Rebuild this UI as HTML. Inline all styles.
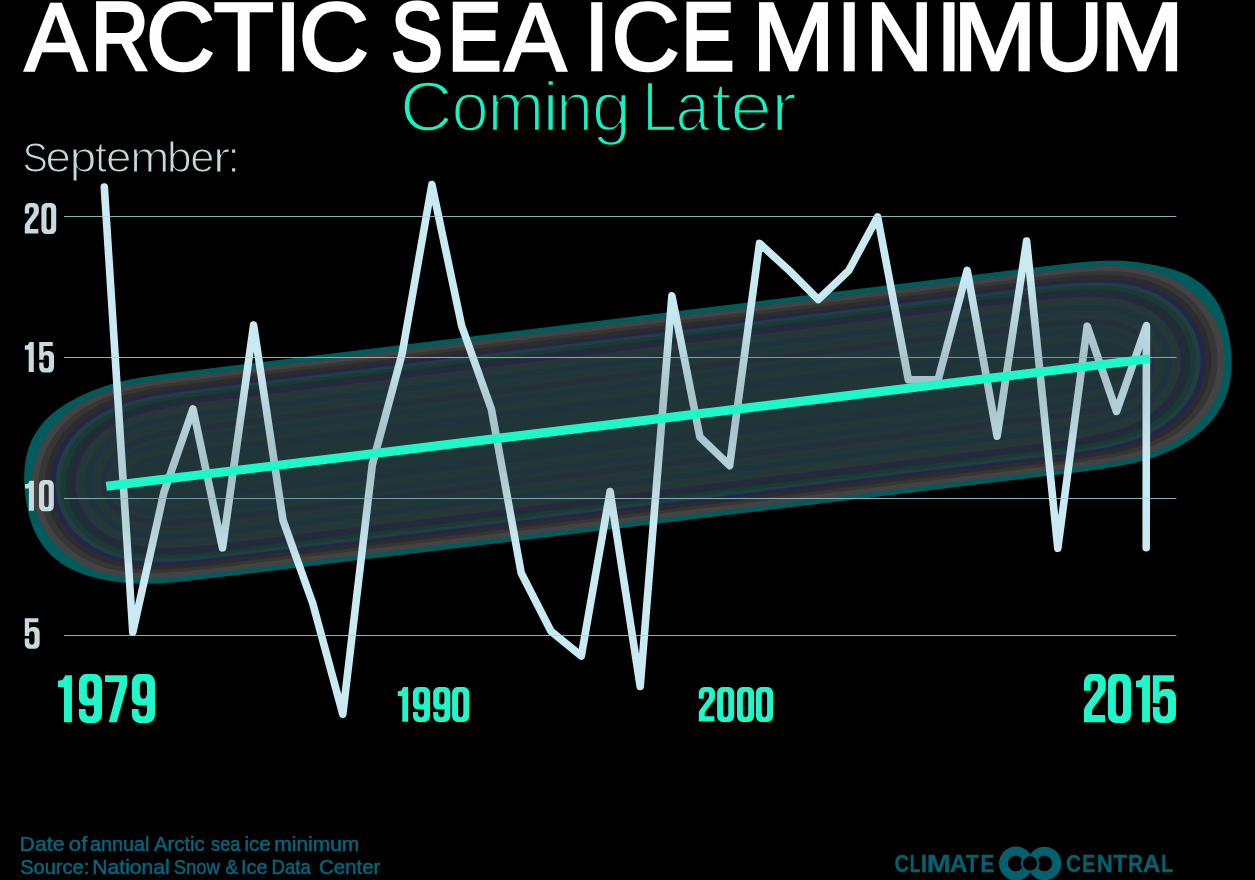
<!DOCTYPE html>
<html lang="en">
<head>
<meta charset="utf-8">
<title>Arctic Sea Ice Minimum - Coming Later</title>
<style>
html,body{margin:0;padding:0;background:#000;}
body{width:1255px;height:880px;overflow:hidden;font-family:'Liberation Sans', sans-serif;}
svg{display:block;position:absolute;left:0;top:0;}
text{font-family:'Liberation Sans', sans-serif;}
</style>
</head>
<body>
<svg width="1255" height="880" viewBox="0 0 1255 880">
<defs>
<filter id="blur" x="-20%" y="-60%" width="140%" height="220%" color-interpolation-filters="sRGB">
<feGaussianBlur stdDeviation="30"/>
</filter>
<mask id="glowmask" maskUnits="userSpaceOnUse" x="0" y="0" width="1255" height="880">
<path d="M106.3 486.0L1149.8 358.4" stroke="#fff" stroke-width="120" stroke-linecap="butt" fill="none" filter="url(#blur)"/>
</mask>
<g id="lines" fill="none">
<g stroke-width="1.1"><path d="M64 216.5H1176.3"/><path d="M64 357.5H1176.3"/><path d="M64 498.5H1176.3"/><path d="M64 635.5H1176.3"/></g>
</g>
<path id="g0" fill-rule="evenodd" d="M0 17.5A15 17 0 0 1 15 .5H32.6A15 17 0 0 1 47.6 17.5V84.6A15 17 0 0 1 32.6 101.6H15A15 17 0 0 1 0 84.6ZM16.4 25.5A7.4 11 0 0 1 31.2 25.5V76.7A7.4 11 0 0 1 16.4 76.7Z"/><path id="g1" fill-rule="evenodd" d="M0 14.5L9.5 12.8L15.3 3H28.8V100H12.5V27.6H0Z"/><path id="gi" fill-rule="evenodd" d="M0 13L9.5 11.3L15.3 .5H28.8V101H12.5V26.5H0Z"/><path id="g2" fill-rule="evenodd" d="M0 35V17.5A15 17 0 0 1 15 .5H30.1A15 17 0 0 1 45.1 17.5V30Q45.1 35 42 40L19 71Q16.4 75 16.4 79V85.2H43.5V100H0V76Q0 71 3 67L26 35Q28.7 31 28.7 27V22A6 7.5 0 0 0 22.7 14.5H19.9A6 7.5 0 0 0 13.9 22V35Z"/><path id="g5" fill-rule="evenodd" d="M0 3H43.5V16.1H13.9V37.5Q17 31.7 23 31.7H32.6A15 17 0 0 1 47.6 48.7V84.6A15 17 0 0 1 32.6 101.6H15A15 17 0 0 1 0 84.6V68.8H13.9V76.7A7.4 11 0 0 0 21.3 87.7H23.8A7.4 11 0 0 0 31.2 76.7V56.7A7.4 11 0 0 0 23.8 45.7H21.3A7.4 11 0 0 0 13.9 56.7V60.5H0Z"/><path id="g7" fill-rule="evenodd" d="M0 3H45.4V23.5L24.1 100H7.7L29.8 17H0Z"/><path id="g9" fill-rule="evenodd" d="M0 17.5A15 17 0 0 1 15 .5H32.6A15 17 0 0 1 47.6 17.5V84.6A15 17 0 0 1 32.6 101.6H15A15 17 0 0 1 0 84.6V72.9H13.9V76.7A7.4 11 0 0 0 21.3 87.7H23.8A7.4 11 0 0 0 31.2 76.7V65.5H14A14 15 0 0 1 0 50.5ZM16.4 25.5A7.4 11 0 0 1 31.2 25.5V40.5A7.4 11 0 0 1 16.4 40.5Z"/>
<path id="dataline" d="M104.3 187.0L132.8 632.2L163.9 492.5L193.0 409.0L222.5 547.9L253.6 325.1L283.0 520.2L312.8 603.5L342.8 714.3L372.3 464.8L402.1 353.8L431.9 184.6L461.7 326.0L491.4 409.2L521.2 573.0L551.0 631.2L581.3 656.0L610.1 491.6L640.2 686.4L671.9 295.9L699.9 437.0L729.6 465.6L759.5 243.4L789.2 270.5L818.3 299.6L848.8 270.5L877.6 216.9L908.4 379.8L938.1 379.8L967.2 270.3L997.1 436.2L1026.6 241.0L1057.8 548.3L1087.2 326.3L1116.5 411.4L1146.4 325.7L1146.2 547.7" fill="none" stroke-width="7.6" stroke-linecap="round" stroke-linejoin="round"/>
</defs>
<rect width="1255" height="880" fill="#000"/>

<!-- title -->
<g id="title" opacity="0.999">
<g id="t-title" font-size="96.7" fill="#fff" stroke="#fff" stroke-width="2.6"><text transform="translate(24.87 70.40) scale(0.9622 1)">A</text><text transform="translate(90.91 70.40) scale(0.8293 1)" stroke-width="3.60">R</text><text transform="translate(146.04 70.40) scale(0.9868 1)">C</text><text transform="translate(213.51 70.40) scale(1.0248 1)">T</text><text transform="translate(274.62 70.40) scale(1.0070 1)">I</text><text transform="translate(298.77 70.40) scale(1.0056 1)">C</text><text transform="translate(391.12 70.40) scale(0.8031 1)" stroke-width="3.60">S</text><text transform="translate(447.80 70.40) scale(0.8320 1)" stroke-width="3.60">E</text><text transform="translate(504.17 70.40) scale(0.9622 1)">A</text><text transform="translate(583.88 70.40) scale(0.9468 1)">I</text><text transform="translate(611.38 70.40) scale(0.9759 1)">C</text><text transform="translate(681.39 70.40) scale(0.8177 1)" stroke-width="3.60">E</text><text transform="translate(752.31 70.40) scale(1.0240 1)">M</text><text transform="translate(836.48 70.40) scale(0.9468 1)">I</text><text transform="translate(865.56 70.40) scale(0.9715 1)">N</text><text transform="translate(936.18 70.40) scale(0.9468 1)">I</text><text transform="translate(953.14 70.40) scale(1.0344 1)">M</text><text transform="translate(1034.52 70.40) scale(0.9876 1)">U</text><text transform="translate(1099.66 70.40) scale(1.0463 1)">M</text></g>
<g id="t-sub" font-size="70.5" fill="#14f5c4" stroke="#000" stroke-width="2.4"><text transform="translate(399.81 131.10) scale(1.0438 1)">C</text><text transform="translate(451.44 131.10) scale(0.9518 1)">o</text><text transform="translate(487.28 131.10) scale(0.9724 1)">m</text><text transform="translate(541.80 131.10) scale(1.1327 1)">i</text><text transform="translate(556.03 131.10) scale(0.9474 1)">n</text><text transform="translate(591.73 131.10) scale(1.0033 1)">g</text><text transform="translate(641.85 131.10) scale(0.9099 1)">L</text><text transform="translate(675.55 131.10) scale(0.8695 1)">a</text><text transform="translate(711.12 131.10) scale(1.0510 1)">t</text><text transform="translate(730.34 131.10) scale(1.0625 1)">e</text><text transform="translate(770.63 131.10) scale(1.1166 1)">r</text></g>
<g id="t-sep" font-size="43" fill="#c5dade" stroke="#000" stroke-width="1.2"><text transform="translate(22.68 172.00) scale(0.8703 1)">S</text><text transform="translate(45.42 172.00) scale(1.0644 1)">e</text><text transform="translate(69.76 172.00) scale(1.1082 1)">p</text><text transform="translate(94.96 172.00) scale(0.9917 1)">t</text><text transform="translate(105.92 172.00) scale(1.0644 1)">e</text><text transform="translate(130.13 172.00) scale(1.0923 1)">m</text><text transform="translate(166.92 172.00) scale(1.0310 1)">b</text><text transform="translate(190.24 172.00) scale(1.0117 1)">e</text><text transform="translate(213.08 172.00) scale(1.1937 1)">r</text><text transform="translate(227.25 172.00) scale(1.0711 1)">:</text></g>
</g>

<!-- glow -->
<g id="glow">
<path fill="#005c5c" d="M25.3 495.9L24.9 491.8L24.5 487.7L24.3 483.6L24.2 479.5L24.2 475.3L24.4 471.1L24.7 466.9L25.2 462.7L25.9 458.4L26.9 454.2L28.0 450.0L29.4 445.8L31.1 441.7L33.0 437.6L35.2 433.7L37.6 429.9L40.3 426.2L43.2 422.6L46.3 419.3L49.7 416.0L53.2 412.9L57.0 410.0L60.8 407.2L64.9 404.6L69.1 402.1L73.5 399.7L78.0 397.3L82.7 395.1L87.6 392.8L92.8 390.6L98.2 388.5L104.0 386.4L110.2 384.5L117.0 382.6L124.4 380.8L132.7 379.1L142.5 377.3L154.7 375.4L172.5 373.0L289.0 358.7L941.8 278.8L1058.3 264.7L1076.2 262.7L1088.5 261.6L1098.4 261.0L1106.9 260.7L1114.5 260.6L1121.5 260.8L1128.0 261.2L1134.1 261.8L1139.9 262.6L1145.5 263.4L1150.8 264.4L1155.9 265.3L1160.9 266.4L1165.8 267.5L1170.5 268.8L1175.2 270.2L1179.7 271.8L1184.1 273.6L1188.4 275.6L1192.6 277.9L1196.6 280.4L1200.3 283.1L1203.9 286.1L1207.3 289.3L1210.4 292.6L1213.2 296.2L1215.8 299.9L1218.1 303.8L1220.2 307.7L1222.0 311.7L1223.6 315.8L1225.0 319.9L1226.2 324.0L1227.3 328.1L1228.2 332.2L1229.0 336.3L1229.7 340.4L1230.3 344.4L1230.8 348.5L1231.2 352.6L1231.5 356.7L1231.7 360.8L1231.7 364.9L1231.5 369.0L1231.2 373.2L1230.7 377.3L1230.1 381.5L1229.2 385.6L1228.1 389.8L1226.9 393.9L1225.4 397.9L1223.7 401.9L1221.7 405.9L1219.6 409.7L1217.2 413.5L1214.6 417.1L1211.8 420.7L1208.8 424.1L1205.6 427.3L1202.2 430.5L1198.6 433.5L1194.8 436.4L1190.9 439.2L1186.8 441.8L1182.5 444.4L1178.0 446.9L1173.4 449.2L1168.5 451.5L1163.3 453.8L1157.9 455.9L1152.1 458.0L1145.9 459.9L1139.1 461.8L1131.7 463.6L1123.4 465.3L1113.6 467.1L1101.4 469.0L1083.6 471.4L967.1 485.7L314.3 565.6L197.8 579.7L179.9 581.7L167.6 582.8L157.7 583.4L149.2 583.7L141.6 583.8L134.6 583.6L128.1 583.2L122.0 582.6L116.2 581.8L110.6 580.9L105.3 579.9L100.2 578.9L95.2 577.7L90.4 576.4L85.7 575.0L81.2 573.4L76.7 571.6L72.4 569.7L68.2 567.6L64.2 565.2L60.3 562.7L56.7 559.9L53.2 557.0L49.9 553.9L46.8 550.6L44.0 547.1L41.4 543.5L39.0 539.8L36.9 536.0L34.9 532.1L33.2 528.2L31.7 524.2L30.4 520.2L29.2 516.1L28.2 512.1L27.3 508.1L26.5 504.0L25.8 500.0Z"/>
<path fill="#434343" d="M32.3 495.0L31.9 491.2L31.7 487.3L31.7 483.4L31.8 479.5L32.1 475.6L32.6 471.7L33.3 467.8L34.1 463.9L35.2 460.1L36.4 456.3L37.7 452.5L39.3 448.8L41.0 445.1L42.9 441.5L45.0 437.9L47.2 434.4L49.7 431.0L52.3 427.7L55.0 424.4L58.0 421.2L61.1 418.1L64.4 415.1L67.9 412.2L71.6 409.3L75.5 406.6L79.6 404.0L83.9 401.5L88.4 399.1L93.2 396.8L98.3 394.6L103.7 392.5L109.4 390.5L115.5 388.6L122.2 386.8L129.6 385.1L138.0 383.4L147.8 381.6L160.1 379.7L178.2 377.3L297.0 362.7L935.0 284.7L1053.9 270.2L1072.0 268.2L1084.4 267.1L1094.3 266.4L1102.8 266.1L1110.4 266.0L1117.4 266.1L1123.8 266.5L1129.8 267.0L1135.5 267.8L1141.0 268.7L1146.2 269.7L1151.2 271.0L1155.9 272.4L1160.5 273.9L1165.0 275.6L1169.2 277.5L1173.3 279.5L1177.3 281.6L1181.1 283.9L1184.7 286.3L1188.2 288.8L1191.5 291.4L1194.7 294.1L1197.7 297.0L1200.6 299.9L1203.3 303.0L1205.9 306.1L1208.3 309.4L1210.5 312.7L1212.6 316.1L1214.5 319.6L1216.3 323.1L1217.9 326.7L1219.3 330.4L1220.5 334.1L1221.6 337.9L1222.5 341.7L1223.2 345.5L1223.8 349.4L1224.2 353.2L1224.4 357.1L1224.4 361.0L1224.3 364.9L1224.0 368.8L1223.5 372.7L1222.8 376.6L1222.0 380.5L1220.9 384.3L1219.7 388.1L1218.4 391.9L1216.8 395.6L1215.1 399.3L1213.2 402.9L1211.1 406.5L1208.9 410.0L1206.4 413.4L1203.8 416.7L1201.1 420.0L1198.1 423.2L1195.0 426.3L1191.7 429.3L1188.2 432.2L1184.5 435.1L1180.6 437.8L1176.5 440.4L1172.2 442.9L1167.7 445.3L1162.9 447.6L1157.8 449.8L1152.4 451.9L1146.7 453.9L1140.6 455.8L1133.9 457.6L1126.5 459.3L1118.1 461.0L1108.3 462.8L1096.0 464.7L1077.9 467.1L959.1 481.7L321.1 559.7L202.2 574.2L184.1 576.2L171.7 577.3L161.8 578.0L153.3 578.3L145.7 578.4L138.7 578.3L132.3 577.9L126.3 577.4L120.6 576.6L115.1 575.7L109.9 574.7L104.9 573.4L100.2 572.0L95.6 570.5L91.1 568.8L86.9 566.9L82.8 564.9L78.8 562.8L75.0 560.5L71.4 558.1L67.9 555.6L64.6 553.0L61.4 550.3L58.4 547.4L55.5 544.5L52.8 541.4L50.2 538.3L47.8 535.0L45.6 531.7L43.5 528.3L41.6 524.8L39.8 521.3L38.2 517.7L36.8 514.0L35.6 510.3L34.5 506.5L33.6 502.7L32.9 498.9Z"/>
<path fill="#363636" d="M39.1 494.2L38.7 490.5L38.5 486.8L38.5 483.1L38.7 479.4L39.0 475.6L39.5 471.9L40.1 468.2L40.9 464.5L41.9 460.9L43.1 457.3L44.4 453.7L45.9 450.1L47.6 446.6L49.5 443.2L51.5 439.8L53.7 436.4L56.1 433.1L58.6 429.9L61.3 426.8L64.2 423.8L67.3 420.8L70.5 417.9L73.9 415.1L77.5 412.4L81.3 409.8L85.4 407.3L89.6 404.9L94.0 402.6L98.8 400.4L103.7 398.3L109.1 396.3L114.7 394.3L120.8 392.5L127.5 390.7L134.9 389.0L143.2 387.4L153.1 385.6L165.5 383.8L183.9 381.3L304.9 366.4L928.2 290.2L1049.3 275.5L1067.7 273.4L1080.2 272.3L1090.2 271.6L1098.7 271.2L1106.3 271.1L1113.2 271.2L1119.5 271.5L1125.5 272.0L1131.1 272.6L1136.5 273.5L1141.6 274.5L1146.5 275.7L1151.2 277.0L1155.7 278.4L1160.0 280.1L1164.2 281.8L1168.1 283.7L1172.0 285.7L1175.7 287.8L1179.2 290.1L1182.6 292.5L1185.8 295.0L1188.9 297.6L1191.8 300.3L1194.6 303.1L1197.3 306.0L1199.7 309.0L1202.0 312.1L1204.2 315.3L1206.2 318.5L1208.1 321.8L1209.8 325.2L1211.3 328.6L1212.7 332.1L1213.9 335.7L1214.9 339.2L1215.8 342.9L1216.5 346.5L1217.0 350.2L1217.4 353.9L1217.6 357.6L1217.6 361.3L1217.4 365.0L1217.1 368.8L1216.6 372.5L1216.0 376.2L1215.2 379.9L1214.2 383.5L1213.0 387.1L1211.7 390.7L1210.2 394.3L1208.5 397.8L1206.6 401.2L1204.6 404.6L1202.4 408.0L1200.0 411.3L1197.5 414.5L1194.8 417.6L1191.9 420.6L1188.8 423.6L1185.6 426.5L1182.2 429.3L1178.6 432.0L1174.8 434.6L1170.7 437.1L1166.5 439.5L1162.1 441.8L1157.3 444.0L1152.4 446.1L1147.0 448.1L1141.4 450.1L1135.3 451.9L1128.6 453.7L1121.2 455.4L1112.9 457.0L1103.0 458.8L1090.6 460.6L1072.2 463.1L951.2 478.0L327.9 554.2L206.8 568.9L188.4 571.0L175.9 572.1L165.9 572.8L157.4 573.2L149.8 573.3L142.9 573.2L136.6 572.9L130.6 572.4L125.0 571.8L119.6 570.9L114.5 569.9L109.6 568.7L104.9 567.4L100.4 566.0L96.1 564.3L91.9 562.6L88.0 560.7L84.1 558.7L80.4 556.6L76.9 554.3L73.5 551.9L70.3 549.4L67.2 546.8L64.3 544.1L61.5 541.3L58.8 538.4L56.4 535.4L54.1 532.3L51.9 529.1L49.9 525.9L48.0 522.6L46.3 519.2L44.8 515.8L43.4 512.3L42.2 508.7L41.2 505.2L40.3 501.5L39.6 497.9Z"/>
<path fill="#2c2c2c" d="M45.4 493.4L45.0 489.9L44.9 486.3L44.8 482.7L45.0 479.1L45.3 475.5L45.8 471.9L46.5 468.3L47.3 464.7L48.3 461.2L49.4 457.7L50.8 454.2L52.3 450.7L53.9 447.4L55.8 444.0L57.8 440.7L60.0 437.5L62.3 434.3L64.8 431.2L67.5 428.2L70.4 425.2L73.5 422.3L76.7 419.5L80.1 416.8L83.7 414.2L87.5 411.6L91.5 409.2L95.8 406.8L100.3 404.6L105.0 402.4L110.0 400.4L115.4 398.4L121.1 396.5L127.3 394.7L134.1 392.9L141.6 391.3L150.2 389.6L160.3 387.8L173.2 385.9L192.2 383.4L318.5 367.9L915.4 294.9L1041.7 279.5L1060.8 277.4L1073.7 276.1L1084.0 275.4L1092.7 275.0L1100.4 274.8L1107.4 274.8L1113.8 275.1L1119.9 275.6L1125.5 276.2L1130.9 277.0L1136.0 277.9L1140.9 279.0L1145.6 280.3L1150.1 281.7L1154.4 283.2L1158.5 284.9L1162.5 286.7L1166.3 288.7L1170.0 290.7L1173.5 292.9L1176.8 295.2L1180.0 297.6L1183.1 300.1L1186.0 302.8L1188.7 305.5L1191.3 308.3L1193.8 311.2L1196.0 314.1L1198.2 317.2L1200.1 320.3L1202.0 323.5L1203.6 326.8L1205.1 330.1L1206.5 333.5L1207.6 336.9L1208.6 340.4L1209.5 343.9L1210.2 347.4L1210.7 351.0L1211.1 354.5L1211.2 358.1L1211.3 361.7L1211.1 365.3L1210.8 368.9L1210.3 372.5L1209.6 376.1L1208.8 379.7L1207.8 383.2L1206.7 386.7L1205.3 390.2L1203.8 393.7L1202.2 397.0L1200.3 400.4L1198.3 403.7L1196.1 406.9L1193.8 410.1L1191.3 413.2L1188.6 416.2L1185.7 419.2L1182.6 422.1L1179.4 424.9L1176.0 427.6L1172.4 430.2L1168.6 432.8L1164.6 435.2L1160.3 437.6L1155.8 439.8L1151.1 442.0L1146.1 444.0L1140.7 446.0L1135.0 447.9L1128.8 449.7L1122.0 451.5L1114.5 453.1L1105.9 454.8L1095.8 456.6L1082.9 458.5L1063.9 461.0L937.6 476.5L340.7 549.5L214.4 564.9L195.3 567.0L182.4 568.3L172.1 569.0L163.4 569.4L155.7 569.6L148.7 569.6L142.3 569.3L136.2 568.8L130.6 568.2L125.2 567.4L120.1 566.5L115.2 565.4L110.5 564.1L106.0 562.7L101.7 561.2L97.6 559.5L93.6 557.7L89.8 555.7L86.1 553.7L82.6 551.5L79.3 549.2L76.1 546.8L73.0 544.3L70.1 541.6L67.4 538.9L64.8 536.1L62.3 533.2L60.1 530.3L57.9 527.2L56.0 524.1L54.1 520.9L52.5 517.6L51.0 514.3L49.6 510.9L48.5 507.5L47.5 504.0L46.6 500.5L45.9 497.0Z"/>
<path fill="#25254b" d="M51.0 492.8L50.7 489.3L50.5 485.9L50.5 482.4L50.6 479.0L50.9 475.5L51.4 472.1L52.1 468.7L52.9 465.2L53.8 461.9L55.0 458.5L56.3 455.1L57.7 451.8L59.4 448.6L61.2 445.4L63.1 442.2L65.3 439.1L67.6 436.1L70.0 433.1L72.7 430.2L75.5 427.3L78.5 424.6L81.6 421.9L85.0 419.3L88.5 416.7L92.3 414.3L96.2 411.9L100.4 409.7L104.8 407.5L109.4 405.4L114.4 403.4L119.7 401.5L125.4 399.7L131.5 397.9L138.2 396.2L145.7 394.6L154.2 392.9L164.3 391.2L177.2 389.3L196.4 386.8L323.6 371.1L911.2 299.3L1038.5 283.8L1057.7 281.6L1070.6 280.4L1080.9 279.6L1089.5 279.2L1097.2 279.0L1104.1 279.0L1110.5 279.2L1116.4 279.6L1122.0 280.2L1127.3 281.0L1132.4 281.9L1137.2 282.9L1141.8 284.1L1146.2 285.4L1150.4 286.9L1154.4 288.5L1158.3 290.2L1162.0 292.1L1165.6 294.0L1169.0 296.1L1172.3 298.3L1175.4 300.6L1178.3 303.0L1181.1 305.5L1183.8 308.1L1186.3 310.8L1188.7 313.6L1190.9 316.4L1193.0 319.3L1194.9 322.3L1196.7 325.4L1198.3 328.5L1199.7 331.7L1201.0 334.9L1202.1 338.2L1203.1 341.5L1203.9 344.9L1204.6 348.2L1205.1 351.6L1205.4 355.1L1205.6 358.5L1205.6 362.0L1205.5 365.4L1205.2 368.9L1204.7 372.3L1204.0 375.7L1203.2 379.2L1202.3 382.5L1201.1 385.9L1199.8 389.3L1198.4 392.6L1196.7 395.8L1194.9 399.0L1193.0 402.2L1190.8 405.3L1188.5 408.3L1186.1 411.3L1183.4 414.2L1180.6 417.1L1177.6 419.8L1174.5 422.5L1171.1 425.1L1167.6 427.7L1163.8 430.1L1159.9 432.5L1155.7 434.7L1151.3 436.9L1146.7 439.0L1141.7 441.0L1136.4 442.9L1130.7 444.7L1124.6 446.5L1117.9 448.2L1110.4 449.8L1101.9 451.5L1091.8 453.2L1078.9 455.1L1059.7 457.6L932.5 473.3L344.9 545.1L217.6 560.6L198.4 562.8L185.5 564.0L175.2 564.8L166.6 565.2L158.9 565.4L152.0 565.4L145.6 565.2L139.7 564.8L134.1 564.2L128.8 563.4L123.7 562.5L118.9 561.5L114.3 560.3L109.9 559.0L105.7 557.5L101.7 555.9L97.8 554.2L94.1 552.3L90.5 550.4L87.1 548.3L83.8 546.1L80.7 543.8L77.8 541.4L75.0 538.9L72.3 536.3L69.8 533.6L67.4 530.8L65.2 528.0L63.1 525.1L61.2 522.1L59.4 519.0L57.8 515.9L56.4 512.7L55.1 509.5L54.0 506.2L53.0 502.9L52.2 499.5L51.5 496.2Z"/>
<path fill="#204040" d="M56.0 492.2L55.7 488.8L55.5 485.5L55.5 482.2L55.7 478.8L56.0 475.5L56.4 472.2L57.1 468.9L57.9 465.6L58.8 462.3L60.0 459.0L61.2 455.8L62.7 452.6L64.3 449.5L66.1 446.4L68.0 443.3L70.1 440.3L72.4 437.3L74.8 434.5L77.4 431.6L80.2 428.9L83.1 426.2L86.2 423.6L89.6 421.1L93.1 418.6L96.8 416.2L100.7 414.0L104.8 411.8L109.2 409.6L113.8 407.6L118.7 405.7L124.0 403.8L129.7 402.0L135.8 400.3L142.5 398.6L150.0 397.0L158.6 395.4L168.8 393.7L181.8 391.7L201.2 389.2L330.4 373.3L905.1 303.0L1034.3 287.3L1053.8 285.1L1066.9 283.8L1077.2 283.0L1085.9 282.6L1093.6 282.3L1100.5 282.3L1106.9 282.5L1112.8 282.9L1118.4 283.4L1123.6 284.1L1128.6 285.0L1133.4 286.0L1137.9 287.1L1142.3 288.4L1146.4 289.8L1150.4 291.3L1154.2 293.0L1157.9 294.8L1161.4 296.7L1164.7 298.7L1168.0 300.8L1171.0 303.0L1173.9 305.3L1176.7 307.7L1179.3 310.2L1181.8 312.8L1184.1 315.5L1186.3 318.2L1188.3 321.1L1190.1 323.9L1191.9 326.9L1193.4 329.9L1194.9 333.0L1196.1 336.1L1197.2 339.3L1198.2 342.5L1199.0 345.7L1199.6 349.0L1200.1 352.2L1200.4 355.6L1200.6 358.9L1200.6 362.2L1200.4 365.6L1200.1 368.9L1199.7 372.2L1199.0 375.5L1198.2 378.8L1197.3 382.1L1196.1 385.4L1194.9 388.6L1193.4 391.8L1191.8 394.9L1190.0 398.0L1188.1 401.1L1186.0 404.1L1183.7 407.1L1181.3 409.9L1178.7 412.8L1175.9 415.5L1173.0 418.2L1169.9 420.8L1166.5 423.3L1163.0 425.8L1159.3 428.2L1155.4 430.4L1151.3 432.6L1146.9 434.8L1142.3 436.8L1137.4 438.7L1132.1 440.6L1126.4 442.4L1120.3 444.1L1113.6 445.8L1106.1 447.4L1097.5 449.0L1087.3 450.7L1074.3 452.7L1054.9 455.2L925.7 471.1L351.0 541.4L221.8 557.1L202.3 559.3L189.2 560.6L178.9 561.4L170.2 561.8L162.5 562.1L155.6 562.1L149.2 561.9L143.3 561.5L137.7 561.0L132.5 560.3L127.5 559.4L122.7 558.4L118.2 557.3L113.8 556.0L109.7 554.6L105.7 553.1L101.9 551.4L98.2 549.6L94.7 547.7L91.4 545.7L88.1 543.6L85.1 541.4L82.2 539.1L79.4 536.7L76.8 534.2L74.3 531.6L72.0 528.9L69.8 526.2L67.8 523.3L66.0 520.5L64.2 517.5L62.7 514.5L61.2 511.4L60.0 508.3L58.9 505.1L57.9 501.9L57.1 498.7L56.5 495.4Z"/>
<path fill="#1d3838" d="M61.0 491.5L60.7 488.3L60.5 485.1L60.5 481.9L60.7 478.7L61.0 475.5L61.5 472.3L62.1 469.1L62.9 465.9L63.8 462.7L64.9 459.6L66.2 456.4L67.6 453.4L69.2 450.3L71.0 447.3L72.9 444.4L74.9 441.5L77.2 438.6L79.6 435.8L82.1 433.1L84.9 430.4L87.8 427.8L90.9 425.3L94.1 422.9L97.6 420.5L101.2 418.2L105.1 416.0L109.2 413.8L113.5 411.8L118.2 409.8L123.1 407.9L128.3 406.1L133.9 404.3L140.1 402.7L146.8 401.0L154.3 399.4L162.9 397.8L173.1 396.1L186.2 394.2L205.9 391.6L336.8 375.5L899.5 306.7L1030.4 290.8L1050.1 288.5L1063.3 287.3L1073.6 286.4L1082.4 285.9L1090.0 285.7L1096.9 285.7L1103.3 285.8L1109.2 286.2L1114.7 286.7L1119.9 287.3L1124.9 288.1L1129.6 289.1L1134.1 290.2L1138.4 291.4L1142.5 292.7L1146.4 294.2L1150.2 295.8L1153.8 297.5L1157.2 299.3L1160.5 301.2L1163.7 303.3L1166.7 305.4L1169.5 307.6L1172.2 309.9L1174.8 312.3L1177.2 314.8L1179.5 317.4L1181.6 320.1L1183.6 322.8L1185.4 325.6L1187.1 328.4L1188.6 331.3L1190.0 334.3L1191.2 337.3L1192.3 340.3L1193.2 343.4L1194.0 346.5L1194.6 349.7L1195.1 352.9L1195.4 356.1L1195.6 359.3L1195.6 362.5L1195.4 365.7L1195.1 368.9L1194.6 372.1L1194.0 375.3L1193.2 378.5L1192.3 381.7L1191.2 384.8L1189.9 388.0L1188.5 391.0L1186.9 394.1L1185.1 397.1L1183.2 400.0L1181.2 402.9L1178.9 405.8L1176.5 408.6L1174.0 411.3L1171.2 414.0L1168.3 416.6L1165.2 419.1L1162.0 421.5L1158.5 423.9L1154.9 426.2L1151.0 428.4L1146.9 430.6L1142.6 432.6L1137.9 434.6L1133.0 436.5L1127.8 438.3L1122.2 440.1L1116.0 441.7L1109.3 443.4L1101.8 445.0L1093.2 446.6L1083.0 448.3L1069.9 450.2L1050.2 452.8L919.3 468.9L356.6 537.7L225.7 553.6L206.0 555.9L192.8 557.1L182.5 558.0L173.7 558.5L166.1 558.7L159.2 558.7L152.8 558.6L146.9 558.2L141.4 557.7L136.2 557.1L131.2 556.3L126.5 555.3L122.0 554.2L117.7 553.0L113.6 551.7L109.7 550.2L105.9 548.6L102.3 546.9L98.9 545.1L95.6 543.2L92.4 541.1L89.4 539.0L86.6 536.8L83.9 534.5L81.3 532.1L78.9 529.6L76.6 527.0L74.5 524.3L72.5 521.6L70.7 518.8L69.0 516.0L67.5 513.1L66.1 510.1L64.9 507.1L63.8 504.1L62.9 501.0L62.1 497.9L61.5 494.7Z"/>
<path fill="#1a3031" d="M66.6 490.9L66.3 487.8L66.2 484.7L66.2 481.6L66.3 478.5L66.6 475.5L67.1 472.4L67.7 469.3L68.5 466.2L69.4 463.2L70.5 460.2L71.8 457.2L73.2 454.2L74.7 451.3L76.4 448.4L78.3 445.6L80.3 442.8L82.5 440.1L84.9 437.4L87.4 434.8L90.1 432.2L92.9 429.7L96.0 427.3L99.2 424.9L102.6 422.6L106.2 420.4L110.0 418.3L114.1 416.2L118.4 414.2L122.9 412.3L127.8 410.5L133.0 408.7L138.6 407.0L144.7 405.4L151.4 403.8L158.9 402.2L167.5 400.6L177.8 398.9L191.0 397.0L210.8 394.4L343.2 378.1L893.9 310.8L1026.3 294.7L1046.2 292.4L1059.4 291.1L1069.8 290.3L1078.5 289.7L1086.2 289.5L1093.1 289.4L1099.4 289.5L1105.3 289.8L1110.7 290.3L1115.9 290.9L1120.8 291.6L1125.4 292.5L1129.9 293.6L1134.1 294.7L1138.1 296.0L1142.0 297.4L1145.7 298.9L1149.2 300.5L1152.6 302.3L1155.8 304.1L1158.9 306.0L1161.8 308.1L1164.6 310.2L1167.2 312.4L1169.7 314.7L1172.1 317.1L1174.3 319.6L1176.4 322.1L1178.3 324.7L1180.1 327.4L1181.7 330.1L1183.2 332.9L1184.6 335.7L1185.8 338.6L1186.8 341.5L1187.7 344.5L1188.5 347.5L1189.1 350.5L1189.5 353.5L1189.8 356.6L1189.9 359.7L1189.9 362.8L1189.8 365.9L1189.5 368.9L1189.0 372.0L1188.4 375.1L1187.6 378.2L1186.7 381.2L1185.6 384.2L1184.3 387.2L1182.9 390.2L1181.4 393.1L1179.7 396.0L1177.8 398.8L1175.8 401.6L1173.6 404.3L1171.2 407.0L1168.7 409.6L1166.0 412.2L1163.2 414.7L1160.1 417.1L1156.9 419.5L1153.5 421.8L1149.9 424.0L1146.1 426.1L1142.0 428.2L1137.7 430.2L1133.2 432.1L1128.3 433.9L1123.1 435.7L1117.5 437.4L1111.4 439.0L1104.7 440.6L1097.2 442.2L1088.6 443.8L1078.3 445.5L1065.1 447.4L1045.3 450.0L912.9 466.3L362.2 533.6L229.8 549.7L209.9 552.0L196.7 553.3L186.3 554.1L177.6 554.7L169.9 554.9L163.0 555.0L156.7 554.9L150.8 554.6L145.4 554.1L140.2 553.5L135.3 552.8L130.7 551.9L126.2 550.8L122.0 549.7L118.0 548.4L114.1 547.0L110.4 545.5L106.9 543.9L103.5 542.1L100.3 540.3L97.2 538.4L94.3 536.3L91.5 534.2L88.9 532.0L86.4 529.7L84.0 527.3L81.8 524.8L79.7 522.3L77.8 519.7L76.0 517.0L74.4 514.3L72.9 511.5L71.5 508.7L70.3 505.8L69.3 502.9L68.4 499.9L67.6 496.9L67.0 493.9Z"/>
<path fill="#2a2642" d="M72.3 490.2L72.0 487.2L71.9 484.2L71.9 481.3L72.1 478.3L72.4 475.3L72.8 472.3L73.5 469.4L74.2 466.4L75.1 463.5L76.2 460.6L77.5 457.7L78.8 454.9L80.4 452.0L82.1 449.3L83.9 446.5L85.9 443.8L88.1 441.2L90.4 438.6L92.9 436.0L95.6 433.6L98.4 431.2L101.4 428.8L104.6 426.5L108.0 424.3L111.6 422.2L115.4 420.1L119.4 418.1L123.7 416.2L128.3 414.3L133.1 412.5L138.3 410.8L143.9 409.1L150.1 407.5L156.8 405.9L164.4 404.4L173.1 402.8L183.5 401.1L196.9 399.2L217.1 396.5L352.1 379.9L885.7 314.7L1020.7 298.2L1041.0 295.9L1054.4 294.6L1065.0 293.7L1073.8 293.2L1081.5 292.9L1088.4 292.8L1094.7 292.9L1100.6 293.1L1106.1 293.5L1111.2 294.1L1116.1 294.8L1120.7 295.7L1125.1 296.6L1129.3 297.7L1133.3 298.9L1137.1 300.3L1140.7 301.7L1144.2 303.3L1147.6 304.9L1150.7 306.7L1153.8 308.6L1156.7 310.5L1159.4 312.6L1162.0 314.7L1164.5 316.9L1166.8 319.2L1168.9 321.6L1171.0 324.0L1172.9 326.5L1174.6 329.1L1176.2 331.7L1177.7 334.4L1179.0 337.1L1180.2 339.9L1181.2 342.7L1182.1 345.5L1182.8 348.4L1183.4 351.3L1183.8 354.2L1184.1 357.2L1184.2 360.2L1184.2 363.1L1184.0 366.1L1183.7 369.1L1183.3 372.1L1182.6 375.0L1181.9 378.0L1181.0 380.9L1179.9 383.8L1178.6 386.7L1177.3 389.5L1175.7 392.4L1174.0 395.1L1172.2 397.9L1170.2 400.6L1168.0 403.2L1165.7 405.8L1163.2 408.4L1160.5 410.8L1157.7 413.2L1154.7 415.6L1151.5 417.9L1148.1 420.1L1144.5 422.2L1140.7 424.3L1136.7 426.3L1132.4 428.2L1127.8 430.1L1123.0 431.9L1117.8 433.6L1112.2 435.3L1106.0 436.9L1099.3 438.5L1091.7 440.0L1083.0 441.6L1072.6 443.3L1059.2 445.2L1039.0 447.9L904.0 464.5L370.4 529.7L235.4 546.2L215.1 548.5L201.7 549.8L191.1 550.7L182.3 551.2L174.6 551.5L167.7 551.6L161.4 551.5L155.5 551.3L150.0 550.9L144.9 550.3L140.0 549.6L135.4 548.7L131.0 547.8L126.8 546.7L122.8 545.5L119.0 544.1L115.4 542.7L111.9 541.1L108.5 539.5L105.4 537.7L102.3 535.8L99.4 533.9L96.7 531.8L94.1 529.7L91.6 527.5L89.3 525.2L87.2 522.8L85.1 520.4L83.2 517.9L81.5 515.3L79.9 512.7L78.4 510.0L77.1 507.3L75.9 504.5L74.9 501.7L74.0 498.9L73.3 496.0L72.7 493.1Z"/>
<path fill="#243838" d="M76.0 489.7L75.7 486.9L75.6 484.1L75.6 481.3L75.8 478.5L76.1 475.6L76.5 472.8L77.1 470.0L77.9 467.2L78.8 464.4L79.8 461.7L81.0 459.0L82.3 456.2L83.8 453.6L85.4 450.9L87.2 448.3L89.1 445.8L91.2 443.3L93.4 440.8L95.8 438.4L98.4 436.1L101.1 433.8L104.0 431.5L107.0 429.4L110.3 427.3L113.7 425.2L117.4 423.3L121.3 421.3L125.4 419.5L129.8 417.7L134.4 416.0L139.5 414.4L144.9 412.8L150.8 411.3L157.3 409.8L164.6 408.3L173.0 406.7L183.1 405.1L196.1 403.2L215.7 400.7L346.9 384.6L891.9 317.9L1023.0 302.0L1042.7 299.7L1055.8 298.4L1065.9 297.5L1074.5 297.0L1081.9 296.7L1088.6 296.6L1094.7 296.7L1100.4 296.9L1105.6 297.3L1110.6 297.8L1115.3 298.5L1119.7 299.3L1123.9 300.2L1127.9 301.2L1131.8 302.4L1135.4 303.6L1138.9 305.0L1142.3 306.4L1145.5 308.0L1148.5 309.7L1151.4 311.4L1154.2 313.3L1156.8 315.2L1159.3 317.2L1161.6 319.3L1163.9 321.5L1165.9 323.7L1167.9 326.0L1169.7 328.4L1171.3 330.8L1172.9 333.3L1174.3 335.9L1175.5 338.4L1176.6 341.1L1177.6 343.7L1178.4 346.4L1179.1 349.2L1179.7 351.9L1180.1 354.7L1180.4 357.5L1180.5 360.3L1180.5 363.1L1180.3 365.9L1180.0 368.8L1179.6 371.6L1179.0 374.4L1178.2 377.2L1177.3 380.0L1176.3 382.7L1175.1 385.4L1173.8 388.2L1172.3 390.8L1170.7 393.5L1168.9 396.1L1167.0 398.6L1164.9 401.1L1162.7 403.6L1160.3 406.0L1157.7 408.3L1155.0 410.6L1152.1 412.9L1149.1 415.0L1145.8 417.1L1142.4 419.2L1138.7 421.1L1134.8 423.1L1130.7 424.9L1126.3 426.7L1121.7 428.4L1116.6 430.0L1111.2 431.6L1105.3 433.1L1098.8 434.6L1091.5 436.1L1083.1 437.7L1073.0 439.3L1060.0 441.2L1040.4 443.7L909.2 459.8L364.2 526.5L233.1 542.4L213.4 544.7L200.3 546.0L190.2 546.9L181.6 547.4L174.2 547.7L167.5 547.8L161.4 547.7L155.7 547.5L150.5 547.1L145.5 546.6L140.8 545.9L136.4 545.1L132.2 544.2L128.2 543.2L124.3 542.0L120.7 540.8L117.2 539.4L113.8 538.0L110.6 536.4L107.6 534.7L104.7 533.0L101.9 531.1L99.3 529.2L96.8 527.2L94.5 525.1L92.2 522.9L90.2 520.7L88.2 518.4L86.4 516.0L84.8 513.6L83.2 511.1L81.8 508.5L80.6 506.0L79.5 503.3L78.5 500.7L77.7 498.0L77.0 495.2L76.4 492.5Z"/>
<path fill="#21323f" d="M84.8 488.6L84.6 486.2L84.5 483.7L84.5 481.2L84.6 478.7L84.9 476.2L85.3 473.8L85.9 471.3L86.6 468.8L87.4 466.4L88.3 463.9L89.4 461.5L90.6 459.1L91.9 456.8L93.4 454.4L95.0 452.2L96.8 449.9L98.7 447.7L100.8 445.5L102.9 443.4L105.3 441.3L107.8 439.3L110.4 437.3L113.2 435.4L116.2 433.5L119.4 431.7L122.7 429.9L126.3 428.2L130.1 426.6L134.1 425.0L138.5 423.5L143.1 422.0L148.1 420.6L153.6 419.2L159.7 417.8L166.5 416.5L174.4 415.1L183.8 413.6L196.0 411.8L214.6 409.4L338.6 394.2L902.2 325.3L1026.2 310.2L1044.8 308.0L1057.1 306.8L1066.7 305.9L1074.6 305.4L1081.6 305.1L1087.8 305.0L1093.4 305.0L1098.7 305.2L1103.5 305.5L1108.1 305.9L1112.4 306.5L1116.5 307.2L1120.3 307.9L1124.0 308.8L1127.5 309.8L1130.9 310.9L1134.1 312.1L1137.1 313.4L1140.0 314.8L1142.8 316.2L1145.4 317.8L1147.9 319.4L1150.3 321.1L1152.6 322.8L1154.7 324.7L1156.7 326.6L1158.6 328.5L1160.3 330.6L1161.9 332.7L1163.4 334.8L1164.8 337.0L1166.1 339.2L1167.2 341.5L1168.2 343.8L1169.1 346.1L1169.8 348.5L1170.4 350.9L1170.9 353.3L1171.3 355.8L1171.5 358.2L1171.6 360.7L1171.6 363.2L1171.5 365.7L1171.2 368.2L1170.8 370.6L1170.2 373.1L1169.5 375.6L1168.7 378.0L1167.8 380.5L1166.7 382.9L1165.5 385.3L1164.2 387.6L1162.7 390.0L1161.1 392.2L1159.3 394.5L1157.4 396.7L1155.3 398.9L1153.2 401.0L1150.8 403.1L1148.3 405.1L1145.7 407.1L1142.9 409.0L1139.9 410.9L1136.7 412.7L1133.4 414.5L1129.8 416.2L1126.0 417.8L1122.0 419.4L1117.6 420.9L1113.0 422.4L1108.0 423.8L1102.5 425.2L1096.4 426.6L1089.6 427.9L1081.7 429.3L1072.3 430.8L1060.1 432.6L1041.5 435.0L917.5 450.2L353.9 519.1L229.9 534.2L211.3 536.4L199.0 537.6L189.4 538.5L181.5 539.0L174.5 539.3L168.3 539.4L162.7 539.4L157.4 539.2L152.6 538.9L148.0 538.5L143.7 537.9L139.6 537.2L135.8 536.5L132.1 535.6L128.6 534.6L125.2 533.5L122.0 532.3L119.0 531.0L116.1 529.6L113.3 528.2L110.7 526.6L108.2 525.0L105.8 523.3L103.5 521.6L101.4 519.7L99.4 517.8L97.5 515.9L95.8 513.8L94.2 511.7L92.7 509.6L91.3 507.4L90.0 505.2L88.9 502.9L87.9 500.6L87.0 498.3L86.3 495.9L85.7 493.5L85.2 491.1Z"/>
<path fill="#1d3a3a" d="M91.6 487.8L91.4 485.5L91.3 483.3L91.3 481.0L91.5 478.7L91.8 476.4L92.1 474.1L92.7 471.9L93.3 469.6L94.1 467.3L95.0 465.1L96.0 462.9L97.2 460.7L98.5 458.5L99.9 456.4L101.4 454.3L103.1 452.2L104.9 450.1L106.8 448.1L108.9 446.2L111.1 444.3L113.5 442.4L116.0 440.6L118.7 438.8L121.6 437.0L124.6 435.4L127.8 433.7L131.2 432.2L134.9 430.7L138.7 429.2L142.9 427.8L147.4 426.4L152.2 425.0L157.5 423.7L163.4 422.4L170.0 421.1L177.7 419.8L186.9 418.4L198.8 416.7L217.0 414.3L338.7 399.4L903.4 330.3L1025.0 315.5L1043.3 313.4L1055.3 312.2L1064.6 311.3L1072.3 310.8L1079.1 310.5L1085.1 310.3L1090.5 310.3L1095.6 310.4L1100.2 310.7L1104.6 311.1L1108.7 311.6L1112.6 312.2L1116.3 312.9L1119.8 313.7L1123.2 314.6L1126.4 315.6L1129.4 316.6L1132.3 317.8L1135.0 319.1L1137.7 320.4L1140.2 321.8L1142.5 323.3L1144.8 324.8L1146.9 326.4L1148.9 328.1L1150.8 329.8L1152.6 331.6L1154.2 333.5L1155.7 335.4L1157.2 337.4L1158.4 339.4L1159.6 341.4L1160.7 343.5L1161.6 345.6L1162.4 347.8L1163.1 349.9L1163.7 352.1L1164.2 354.4L1164.5 356.6L1164.7 358.9L1164.8 361.1L1164.8 363.4L1164.6 365.7L1164.3 368.0L1164.0 370.3L1163.4 372.5L1162.8 374.8L1162.0 377.1L1161.1 379.3L1160.1 381.5L1158.9 383.7L1157.6 385.9L1156.2 388.0L1154.7 390.1L1153.0 392.2L1151.2 394.3L1149.3 396.3L1147.2 398.2L1145.0 400.1L1142.6 402.0L1140.1 403.8L1137.4 405.6L1134.5 407.4L1131.5 409.0L1128.3 410.7L1124.9 412.2L1121.2 413.7L1117.4 415.2L1113.2 416.6L1108.7 418.0L1103.9 419.4L1098.6 420.7L1092.7 422.0L1086.1 423.3L1078.4 424.6L1069.2 426.0L1057.3 427.7L1039.1 430.1L917.4 445.0L352.7 514.1L231.1 528.9L212.8 531.0L200.8 532.2L191.5 533.1L183.8 533.6L177.0 533.9L171.0 534.1L165.6 534.1L160.5 534.0L155.9 533.7L151.5 533.3L147.4 532.8L143.5 532.2L139.8 531.5L136.3 530.7L132.9 529.8L129.7 528.8L126.7 527.8L123.8 526.6L121.1 525.3L118.4 524.0L115.9 522.6L113.6 521.1L111.3 519.6L109.2 518.0L107.2 516.3L105.3 514.6L103.5 512.8L101.9 510.9L100.4 509.0L98.9 507.0L97.7 505.0L96.5 503.0L95.4 500.9L94.5 498.8L93.7 496.6L93.0 494.5L92.4 492.3L91.9 490.0Z"/>
<path fill="#263636" d="M94.8 487.4L94.6 485.3L94.5 483.1L94.5 481.0L94.7 478.8L95.0 476.7L95.3 474.5L95.8 472.4L96.5 470.3L97.2 468.1L98.1 466.0L99.1 463.9L100.2 461.9L101.4 459.8L102.7 457.8L104.2 455.8L105.8 453.8L107.5 451.9L109.4 450.0L111.4 448.2L113.5 446.4L115.8 444.6L118.2 442.9L120.8 441.2L123.5 439.6L126.4 438.0L129.5 436.4L132.8 434.9L136.3 433.5L140.0 432.1L144.0 430.8L148.3 429.4L153.0 428.2L158.1 426.9L163.8 425.7L170.2 424.4L177.6 423.2L186.5 421.8L198.1 420.1L215.8 417.9L333.8 403.4L909.1 333.0L1027.2 318.6L1044.9 316.6L1056.5 315.4L1065.5 314.6L1073.0 314.0L1079.5 313.7L1085.3 313.5L1090.5 313.5L1095.4 313.6L1099.9 313.9L1104.1 314.2L1108.0 314.7L1111.8 315.2L1115.3 315.9L1118.7 316.6L1121.9 317.5L1124.9 318.4L1127.8 319.4L1130.6 320.5L1133.2 321.7L1135.7 322.9L1138.1 324.2L1140.4 325.6L1142.5 327.1L1144.6 328.6L1146.5 330.2L1148.3 331.8L1149.9 333.5L1151.5 335.2L1153.0 337.0L1154.3 338.9L1155.6 340.8L1156.7 342.7L1157.7 344.6L1158.6 346.6L1159.3 348.7L1160.0 350.7L1160.6 352.8L1161.0 354.9L1161.3 357.0L1161.5 359.1L1161.6 361.3L1161.6 363.4L1161.4 365.6L1161.1 367.7L1160.8 369.9L1160.3 372.0L1159.6 374.1L1158.9 376.3L1158.0 378.4L1157.0 380.5L1155.9 382.5L1154.7 384.6L1153.4 386.6L1151.9 388.6L1150.3 390.6L1148.6 392.5L1146.7 394.4L1144.7 396.2L1142.6 398.0L1140.3 399.8L1137.9 401.5L1135.3 403.2L1132.6 404.8L1129.7 406.4L1126.6 408.0L1123.3 409.5L1119.8 410.9L1116.1 412.3L1112.1 413.6L1107.8 415.0L1103.1 416.2L1098.0 417.5L1092.3 418.7L1085.9 420.0L1078.5 421.2L1069.6 422.6L1058.0 424.3L1040.3 426.5L922.3 441.0L347.0 511.4L228.9 525.8L211.2 527.8L199.6 529.0L190.6 529.8L183.1 530.4L176.6 530.7L170.8 530.9L165.6 530.9L160.7 530.8L156.2 530.5L152.0 530.2L148.1 529.7L144.3 529.2L140.8 528.5L137.4 527.8L134.2 526.9L131.2 526.0L128.3 525.0L125.5 523.9L122.9 522.7L120.4 521.5L118.0 520.2L115.7 518.8L113.6 517.3L111.5 515.8L109.6 514.2L107.8 512.6L106.2 510.9L104.6 509.2L103.1 507.4L101.8 505.5L100.5 503.6L99.4 501.7L98.4 499.8L97.5 497.8L96.8 495.7L96.1 493.7L95.5 491.6L95.1 489.5Z"/>
<path fill="#232f3d" d="M101.0 486.6L100.8 484.7L100.7 482.8L100.8 480.9L100.9 479.0L101.2 477.0L101.5 475.1L102.0 473.2L102.6 471.3L103.3 469.4L104.1 467.5L105.0 465.6L106.0 463.7L107.2 461.9L108.4 460.1L109.8 458.3L111.3 456.5L112.9 454.8L114.6 453.1L116.5 451.4L118.5 449.8L120.6 448.2L122.9 446.6L125.3 445.1L127.8 443.6L130.5 442.2L133.4 440.8L136.5 439.5L139.8 438.2L143.3 436.9L147.0 435.7L151.1 434.5L155.5 433.3L160.3 432.1L165.7 431.0L171.7 429.8L178.8 428.6L187.3 427.3L198.3 425.8L215.3 423.6L328.2 409.8L916.0 337.9L1029.0 324.1L1046.0 322.1L1057.1 321.0L1065.7 320.2L1072.8 319.7L1078.9 319.3L1084.4 319.1L1089.4 319.1L1093.9 319.2L1098.1 319.4L1102.1 319.6L1105.8 320.0L1109.3 320.5L1112.6 321.1L1115.7 321.7L1118.7 322.5L1121.5 323.3L1124.2 324.2L1126.8 325.2L1129.2 326.2L1131.6 327.3L1133.8 328.5L1135.9 329.7L1137.9 331.0L1139.7 332.4L1141.5 333.8L1143.1 335.2L1144.7 336.7L1146.1 338.3L1147.5 339.9L1148.7 341.5L1149.8 343.2L1150.9 344.9L1151.8 346.7L1152.6 348.5L1153.3 350.3L1153.9 352.1L1154.4 354.0L1154.8 355.9L1155.1 357.8L1155.3 359.7L1155.4 361.6L1155.3 363.5L1155.2 365.4L1154.9 367.4L1154.6 369.3L1154.1 371.2L1153.5 373.1L1152.8 375.0L1152.0 376.9L1151.1 378.8L1150.1 380.7L1148.9 382.5L1147.7 384.3L1146.3 386.1L1144.8 387.9L1143.2 389.6L1141.5 391.3L1139.6 393.0L1137.6 394.6L1135.5 396.2L1133.2 397.8L1130.8 399.3L1128.3 400.8L1125.6 402.2L1122.7 403.6L1119.6 404.9L1116.3 406.2L1112.8 407.5L1109.1 408.7L1105.0 409.9L1100.6 411.1L1095.8 412.3L1090.4 413.4L1084.4 414.6L1077.3 415.8L1068.8 417.1L1057.8 418.6L1040.8 420.8L927.9 434.6L340.1 506.5L227.1 520.3L210.1 522.3L199.0 523.4L190.4 524.2L183.3 524.7L177.2 525.1L171.7 525.3L166.7 525.3L162.2 525.2L158.0 525.0L154.0 524.8L150.3 524.4L146.8 523.9L143.5 523.3L140.4 522.7L137.4 521.9L134.6 521.1L131.9 520.2L129.3 519.2L126.9 518.2L124.5 517.1L122.3 515.9L120.2 514.7L118.2 513.4L116.4 512.0L114.6 510.6L113.0 509.2L111.4 507.7L110.0 506.1L108.6 504.5L107.4 502.9L106.3 501.2L105.2 499.5L104.3 497.7L103.5 495.9L102.8 494.1L102.2 492.3L101.7 490.4L101.3 488.5Z"/>
<path fill="#223838" d="M106.3 486.0L106.1 484.3L106.1 482.6L106.1 480.9L106.3 479.2L106.5 477.4L106.8 475.7L107.3 474.0L107.8 472.3L108.5 470.6L109.2 468.9L110.1 467.2L111.0 465.5L112.1 463.9L113.2 462.3L114.5 460.7L115.9 459.1L117.4 457.5L119.0 456.0L120.7 454.5L122.5 453.0L124.5 451.6L126.6 450.2L128.8 448.8L131.2 447.5L133.7 446.2L136.4 445.0L139.3 443.8L142.3 442.6L145.6 441.4L149.1 440.3L152.9 439.2L157.1 438.1L161.6 437.1L166.6 436.0L172.3 435.0L179.0 433.9L187.0 432.6L197.5 431.2L213.6 429.1L320.9 416.0L924.7 342.1L1032.0 329.0L1048.1 327.2L1058.6 326.1L1066.7 325.3L1073.4 324.8L1079.2 324.4L1084.4 324.2L1089.0 324.2L1093.3 324.2L1097.2 324.4L1100.9 324.6L1104.4 324.9L1107.6 325.3L1110.7 325.8L1113.6 326.4L1116.3 327.1L1119.0 327.8L1121.5 328.6L1123.8 329.4L1126.1 330.3L1128.2 331.3L1130.3 332.3L1132.2 333.4L1134.0 334.6L1135.7 335.8L1137.4 337.0L1138.9 338.3L1140.3 339.7L1141.6 341.1L1142.9 342.5L1144.0 344.0L1145.0 345.4L1146.0 347.0L1146.8 348.5L1147.5 350.1L1148.2 351.7L1148.7 353.4L1149.2 355.0L1149.5 356.7L1149.8 358.4L1150.0 360.1L1150.0 361.8L1150.0 363.5L1149.8 365.2L1149.6 367.0L1149.3 368.7L1148.8 370.4L1148.3 372.1L1147.6 373.8L1146.9 375.5L1146.0 377.2L1145.1 378.9L1144.0 380.5L1142.9 382.1L1141.6 383.7L1140.2 385.3L1138.7 386.9L1137.1 388.4L1135.4 389.9L1133.6 391.4L1131.6 392.8L1129.5 394.2L1127.3 395.6L1124.9 396.9L1122.4 398.2L1119.7 399.4L1116.8 400.6L1113.8 401.8L1110.5 403.0L1107.0 404.1L1103.2 405.2L1099.0 406.3L1094.5 407.3L1089.5 408.4L1083.8 409.4L1077.1 410.5L1069.1 411.8L1058.6 413.2L1042.5 415.3L935.2 428.4L331.4 502.3L224.1 515.4L208.0 517.2L197.5 518.3L189.4 519.1L182.7 519.6L176.9 520.0L171.7 520.2L167.1 520.2L162.8 520.2L158.9 520.0L155.2 519.8L151.7 519.5L148.5 519.1L145.4 518.6L142.5 518.0L139.8 517.3L137.1 516.6L134.6 515.8L132.3 515.0L130.0 514.1L127.9 513.1L125.8 512.1L123.9 511.0L122.1 509.8L120.4 508.6L118.7 507.4L117.2 506.1L115.8 504.7L114.5 503.3L113.2 501.9L112.1 500.4L111.1 499.0L110.1 497.4L109.3 495.9L108.6 494.3L107.9 492.7L107.4 491.0L106.9 489.4L106.6 487.7Z"/>
<path fill="#1f3440" d="M111.1 485.4L111.0 483.9L110.9 482.4L111.0 480.8L111.1 479.3L111.3 477.8L111.6 476.2L112.0 474.7L112.5 473.2L113.1 471.7L113.8 470.2L114.6 468.7L115.5 467.2L116.5 465.7L117.6 464.2L118.7 462.8L120.0 461.4L121.4 460.0L122.9 458.6L124.5 457.3L126.2 456.0L128.0 454.7L130.0 453.4L132.0 452.2L134.3 451.0L136.6 449.9L139.1 448.7L141.8 447.6L144.6 446.6L147.7 445.5L151.0 444.5L154.5 443.5L158.4 442.5L162.6 441.6L167.4 440.6L172.7 439.6L179.0 438.6L186.6 437.5L196.5 436.1L211.8 434.1L313.7 421.6L933.0 345.9L1034.9 333.5L1050.2 331.7L1060.2 330.6L1067.8 329.9L1074.1 329.4L1079.6 329.1L1084.4 328.9L1088.8 328.8L1092.8 328.8L1096.5 328.9L1099.9 329.1L1103.1 329.4L1106.1 329.7L1109.0 330.1L1111.7 330.6L1114.2 331.2L1116.7 331.8L1119.0 332.5L1121.2 333.3L1123.3 334.1L1125.2 334.9L1127.1 335.8L1128.9 336.8L1130.6 337.8L1132.1 338.9L1133.6 340.0L1135.0 341.1L1136.3 342.3L1137.5 343.6L1138.7 344.8L1139.7 346.1L1140.7 347.5L1141.5 348.8L1142.3 350.2L1143.0 351.6L1143.5 353.1L1144.0 354.5L1144.5 356.0L1144.8 357.5L1145.0 359.0L1145.1 360.5L1145.2 362.0L1145.1 363.6L1145.0 365.1L1144.8 366.6L1144.5 368.2L1144.1 369.7L1143.6 371.2L1143.0 372.7L1142.3 374.2L1141.5 375.7L1140.6 377.2L1139.6 378.7L1138.5 380.2L1137.4 381.6L1136.1 383.0L1134.7 384.4L1133.2 385.8L1131.6 387.1L1129.9 388.4L1128.1 389.7L1126.1 391.0L1124.1 392.2L1121.8 393.4L1119.5 394.5L1117.0 395.7L1114.3 396.8L1111.5 397.8L1108.4 398.9L1105.1 399.9L1101.6 400.9L1097.7 401.9L1093.5 402.8L1088.7 403.8L1083.4 404.8L1077.1 405.8L1069.5 406.9L1059.6 408.3L1044.3 410.3L942.4 422.8L323.1 498.5L221.2 510.9L205.9 512.7L195.9 513.8L188.3 514.5L182.0 515.0L176.5 515.3L171.7 515.5L167.3 515.6L163.3 515.6L159.6 515.5L156.2 515.3L153.0 515.0L150.0 514.7L147.1 514.3L144.4 513.8L141.9 513.2L139.4 512.6L137.1 511.9L134.9 511.1L132.8 510.3L130.9 509.5L129.0 508.6L127.2 507.6L125.5 506.6L124.0 505.5L122.5 504.4L121.1 503.3L119.8 502.1L118.6 500.8L117.4 499.6L116.4 498.3L115.4 496.9L114.6 495.6L113.8 494.2L113.1 492.8L112.6 491.3L112.1 489.9L111.6 488.4L111.3 486.9Z"/>
<path fill="#233737" d="M115.6 484.9L115.5 483.5L115.4 482.2L115.5 480.8L115.6 479.5L115.8 478.1L116.1 476.7L116.5 475.4L117.0 474.0L117.5 472.7L118.2 471.3L118.9 470.0L119.7 468.7L120.6 467.4L121.6 466.1L122.7 464.8L123.9 463.6L125.2 462.3L126.5 461.1L128.0 459.9L129.6 458.8L131.3 457.6L133.1 456.5L135.0 455.4L137.1 454.3L139.2 453.3L141.6 452.3L144.1 451.3L146.7 450.3L149.6 449.4L152.6 448.5L155.9 447.6L159.6 446.7L163.5 445.8L168.0 444.9L173.0 444.0L178.9 443.0L186.1 442.0L195.5 440.7L210.0 438.8L306.4 427.0L941.4 349.4L1037.8 337.6L1052.3 335.9L1061.7 334.9L1069.0 334.2L1074.9 333.7L1080.0 333.4L1084.6 333.2L1088.6 333.1L1092.4 333.1L1095.8 333.1L1099.0 333.3L1102.0 333.5L1104.8 333.8L1107.4 334.2L1109.9 334.6L1112.3 335.1L1114.6 335.6L1116.7 336.2L1118.7 336.9L1120.6 337.6L1122.4 338.3L1124.2 339.1L1125.8 340.0L1127.3 340.9L1128.8 341.8L1130.1 342.8L1131.4 343.8L1132.6 344.8L1133.7 345.9L1134.8 347.0L1135.7 348.2L1136.6 349.4L1137.3 350.6L1138.0 351.8L1138.7 353.0L1139.2 354.3L1139.6 355.6L1140.0 356.9L1140.3 358.2L1140.5 359.5L1140.6 360.9L1140.7 362.2L1140.6 363.6L1140.5 364.9L1140.3 366.3L1140.0 367.7L1139.6 369.0L1139.1 370.4L1138.6 371.7L1137.9 373.1L1137.2 374.4L1136.4 375.7L1135.5 377.0L1134.5 378.3L1133.4 379.6L1132.2 380.8L1130.9 382.1L1129.6 383.3L1128.1 384.5L1126.5 385.6L1124.8 386.8L1123.0 387.9L1121.1 389.0L1119.0 390.1L1116.9 391.1L1114.5 392.1L1112.0 393.1L1109.4 394.1L1106.5 395.0L1103.5 395.9L1100.2 396.8L1096.5 397.7L1092.6 398.6L1088.1 399.5L1083.1 400.4L1077.2 401.4L1070.0 402.4L1060.6 403.7L1046.1 405.6L949.7 417.4L314.7 495.0L218.3 506.8L203.8 508.5L194.4 509.5L187.1 510.2L181.2 510.7L176.1 511.0L171.5 511.2L167.5 511.3L163.7 511.3L160.3 511.3L157.1 511.1L154.1 510.9L151.3 510.6L148.7 510.2L146.2 509.8L143.8 509.3L141.5 508.8L139.4 508.2L137.4 507.5L135.5 506.8L133.7 506.1L131.9 505.3L130.3 504.4L128.8 503.5L127.3 502.6L126.0 501.6L124.7 500.6L123.5 499.6L122.4 498.5L121.3 497.4L120.4 496.2L119.5 495.0L118.8 493.8L118.1 492.6L117.4 491.4L116.9 490.1L116.5 488.8L116.1 487.5L115.8 486.2Z"/>
<path fill="#21323d" d="M124.2 483.8L124.1 482.8L124.1 481.8L124.1 480.8L124.3 479.8L124.4 478.7L124.7 477.7L125.0 476.7L125.4 475.7L125.9 474.6L126.4 473.6L127.0 472.6L127.7 471.6L128.5 470.6L129.3 469.7L130.2 468.7L131.2 467.7L132.3 466.8L133.5 465.9L134.7 464.9L136.0 464.1L137.4 463.2L139.0 462.3L140.6 461.5L142.3 460.6L144.2 459.8L146.1 459.0L148.2 458.3L150.5 457.5L152.9 456.8L155.6 456.0L158.4 455.3L161.5 454.6L165.0 453.9L168.8 453.2L173.2 452.4L178.3 451.6L184.6 450.7L192.9 449.6L205.8 448.0L290.6 437.6L959.2 355.8L1044.1 345.4L1057.0 343.9L1065.3 343.0L1071.6 342.4L1076.8 341.9L1081.2 341.6L1085.1 341.4L1088.6 341.2L1091.8 341.2L1094.8 341.2L1097.5 341.3L1100.0 341.4L1102.4 341.6L1104.6 341.8L1106.7 342.1L1108.7 342.5L1110.6 342.9L1112.4 343.3L1114.1 343.8L1115.7 344.3L1117.2 344.8L1118.6 345.4L1119.9 346.0L1121.2 346.7L1122.4 347.4L1123.5 348.1L1124.6 348.8L1125.5 349.6L1126.4 350.4L1127.3 351.2L1128.1 352.1L1128.8 353.0L1129.4 353.9L1129.9 354.8L1130.4 355.7L1130.9 356.7L1131.2 357.6L1131.5 358.6L1131.7 359.6L1131.9 360.6L1132.0 361.6L1132.0 362.6L1132.0 363.6L1131.8 364.6L1131.7 365.7L1131.4 366.7L1131.1 367.7L1130.7 368.7L1130.2 369.8L1129.7 370.8L1129.1 371.8L1128.4 372.8L1127.6 373.8L1126.8 374.7L1125.9 375.7L1124.9 376.7L1123.8 377.6L1122.6 378.5L1121.4 379.5L1120.1 380.3L1118.7 381.2L1117.1 382.1L1115.5 382.9L1113.8 383.8L1111.9 384.6L1110.0 385.4L1107.9 386.1L1105.6 386.9L1103.2 387.6L1100.5 388.4L1097.7 389.1L1094.6 389.8L1091.1 390.5L1087.3 391.2L1082.9 392.0L1077.8 392.8L1071.5 393.7L1063.2 394.8L1050.3 396.4L965.5 406.8L296.9 488.6L212.0 499.0L199.1 500.5L190.8 501.4L184.5 502.0L179.3 502.5L174.9 502.8L171.0 503.0L167.5 503.2L164.3 503.2L161.3 503.2L158.6 503.1L156.1 503.0L153.7 502.8L151.5 502.6L149.4 502.3L147.4 501.9L145.5 501.5L143.7 501.1L142.0 500.6L140.4 500.1L138.9 499.6L137.5 499.0L136.2 498.4L134.9 497.7L133.7 497.0L132.6 496.3L131.5 495.6L130.6 494.8L129.7 494.0L128.8 493.2L128.0 492.3L127.3 491.4L126.7 490.5L126.2 489.6L125.7 488.7L125.2 487.7L124.9 486.8L124.6 485.8L124.4 484.8Z"/>
<path fill="#203537" d="M131.4 482.9L131.3 482.2L131.3 481.5L131.4 480.7L131.5 480.0L131.7 479.3L131.9 478.5L132.1 477.8L132.5 477.0L132.9 476.3L133.3 475.5L133.8 474.8L134.4 474.1L135.0 473.4L135.7 472.6L136.5 471.9L137.3 471.2L138.2 470.5L139.1 469.8L140.2 469.2L141.3 468.5L142.5 467.8L143.7 467.2L145.1 466.6L146.5 466.0L148.1 465.3L149.7 464.7L151.5 464.2L153.4 463.6L155.5 463.0L157.7 462.4L160.1 461.9L162.7 461.3L165.7 460.7L169.0 460.2L172.7 459.5L177.2 458.9L182.6 458.1L189.9 457.1L201.2 455.7L274.8 446.7L976.8 360.9L1050.4 351.9L1061.7 350.5L1069.0 349.7L1074.5 349.1L1078.9 348.7L1082.7 348.4L1086.1 348.2L1089.1 348.0L1091.8 348.0L1094.3 347.9L1096.6 347.9L1098.7 348.0L1100.7 348.1L1102.5 348.2L1104.3 348.4L1105.9 348.6L1107.5 348.9L1108.9 349.2L1110.3 349.5L1111.6 349.8L1112.9 350.2L1114.0 350.6L1115.1 351.1L1116.2 351.5L1117.1 352.0L1118.0 352.5L1118.9 353.0L1119.7 353.6L1120.4 354.2L1121.1 354.8L1121.7 355.4L1122.2 356.0L1122.7 356.6L1123.2 357.3L1123.6 358.0L1123.9 358.6L1124.2 359.3L1124.4 360.0L1124.6 360.7L1124.7 361.5L1124.8 362.2L1124.8 362.9L1124.7 363.7L1124.6 364.4L1124.4 365.1L1124.2 365.9L1124.0 366.6L1123.6 367.4L1123.2 368.1L1122.8 368.9L1122.3 369.6L1121.7 370.3L1121.1 371.0L1120.4 371.8L1119.6 372.5L1118.8 373.2L1117.9 373.9L1117.0 374.6L1115.9 375.2L1114.8 375.9L1113.6 376.6L1112.4 377.2L1111.0 377.8L1109.6 378.4L1108.0 379.1L1106.4 379.7L1104.6 380.2L1102.7 380.8L1100.6 381.4L1098.4 382.0L1096.0 382.5L1093.4 383.1L1090.4 383.7L1087.1 384.2L1083.4 384.9L1078.9 385.5L1073.5 386.3L1066.2 387.3L1054.9 388.7L981.3 397.7L279.3 483.5L205.7 492.5L194.4 493.9L187.1 494.7L181.6 495.3L177.2 495.7L173.4 496.0L170.0 496.2L167.0 496.4L164.3 496.4L161.8 496.5L159.5 496.5L157.4 496.4L155.4 496.3L153.6 496.2L151.8 496.0L150.2 495.8L148.6 495.5L147.2 495.2L145.8 494.9L144.5 494.6L143.2 494.2L142.1 493.8L141.0 493.3L139.9 492.9L139.0 492.4L138.1 491.9L137.2 491.4L136.4 490.8L135.7 490.2L135.0 489.6L134.4 489.0L133.9 488.4L133.4 487.8L132.9 487.1L132.5 486.4L132.2 485.8L131.9 485.1L131.7 484.4L131.5 483.7Z"/>
</g>

<!-- gridlines + data line -->
<use href="#lines" stroke="#86b3bb"/>
<use href="#dataline" stroke="#c9e9f3"/>
<use href="#lines" stroke="#86b3bb" opacity="0.3"/>
<g mask="url(#glowmask)" opacity="0.17">
<use href="#lines" stroke="#000"/>
<use href="#dataline" stroke="#000"/>
</g>

<!-- trend line -->
<path d="M106.3 486.35L1149.8 358.65" stroke="#1ef8c8" stroke-width="9.1" fill="none"/>

<!-- y axis labels -->
<g id="ylabels" fill="#c6dadf"><use href="#g2" transform="translate(24.80 202.75) scale(0.3116 0.3076)"/><use href="#g0" transform="translate(41.40 202.75) scale(0.3116 0.3076)"/><use href="#g1" transform="translate(24.80 341.07) scale(0.3116 0.3100)"/><use href="#g5" transform="translate(39.20 341.07) scale(0.3116 0.3100)"/><use href="#g1" transform="translate(25.00 479.85) scale(0.3116 0.3100)"/><use href="#g0" transform="translate(39.00 479.85) scale(0.3116 0.3100)"/><use href="#g5" transform="translate(24.80 617.20) scale(0.3116 0.3100)"/></g>

<!-- x axis labels -->
<g id="xlabels" fill="#1ef8c8"><use href="#g1" transform="translate(57.95 673.74) scale(0.4846 0.4846)"/><use href="#g9" transform="translate(78.90 673.74) scale(0.4846 0.4846)"/><use href="#g7" transform="translate(105.04 673.74) scale(0.4846 0.4846)"/><use href="#g9" transform="translate(131.90 673.74) scale(0.4846 0.4846)"/><use href="#g2" transform="translate(1083.98 673.74) scale(0.4846 0.4846)"/><use href="#g0" transform="translate(1107.90 673.74) scale(0.4846 0.4846)"/><use href="#g1" transform="translate(1136.00 673.74) scale(0.4846 0.4846)"/><use href="#g5" transform="translate(1152.90 673.74) scale(0.4846 0.4846)"/><use href="#gi" transform="translate(397.80 686.73) scale(0.3590 0.3470)"/><use href="#g9" transform="translate(412.90 686.73) scale(0.3590 0.3470)"/><use href="#g9" transform="translate(433.20 686.73) scale(0.3590 0.3470)"/><use href="#g0" transform="translate(452.10 686.73) scale(0.3590 0.3470)"/><use href="#g2" transform="translate(698.80 686.73) scale(0.3590 0.3470)"/><use href="#g0" transform="translate(717.10 686.73) scale(0.3590 0.3470)"/><use href="#g0" transform="translate(737.00 686.73) scale(0.3590 0.3470)"/><use href="#g0" transform="translate(755.90 686.73) scale(0.3590 0.3470)"/></g>

<!-- footer -->
<g id="footer" opacity="0.999" fill="#05657c" stroke="#05657c" stroke-width="0.5" font-size="20">
<text transform="translate(19.62 851.20) scale(1.0617 1)">Date</text><text transform="translate(68.84 851.20) scale(1.1118 1)">of</text><text transform="translate(90.11 851.20) scale(0.9851 1)">annual</text><text transform="translate(154.01 851.20) scale(1.0153 1)">Arctic</text><text transform="translate(211.12 851.20) scale(0.9102 1)">sea</text><text transform="translate(244.39 851.20) scale(1.0235 1)">ice</text><text transform="translate(274.27 851.20) scale(1.0485 1)">minimum</text>
<text transform="translate(20.14 874.00) scale(1.0031 1)">Source:</text><text transform="translate(92.23 874.00) scale(1.0578 1)">National</text><text transform="translate(173.69 874.00) scale(0.9241 1)">Snow</text><text transform="translate(225.57 874.00) scale(0.9591 1)">&amp;</text><text transform="translate(241.01 874.00) scale(0.9981 1)">Ice</text><text transform="translate(271.61 874.00) scale(0.9269 1)">Data</text><text transform="translate(318.92 874.00) scale(1.0240 1)">Center</text>
</g>

<!-- logo -->
<g id="logo" opacity="0.999" fill="#03606f">
<g font-weight="bold" font-size="23.8" stroke="#03606f" stroke-width="0.3"><text transform="translate(894.50 872.00) scale(0.8449 1)">C</text><text transform="translate(909.85 872.00) scale(0.7272 1)">L</text><text transform="translate(920.39 872.00) scale(1.0461 1)">I</text><text transform="translate(926.85 872.00) scale(1.2160 1)">M</text><text transform="translate(949.64 872.00) scale(1.0327 1)">A</text><text transform="translate(965.79 872.00) scale(0.9012 1)">T</text><text transform="translate(980.44 872.00) scale(0.8716 1)">E</text><text transform="translate(1065.88 872.00) scale(0.8764 1)">C</text><text transform="translate(1082.09 872.00) scale(0.8423 1)">E</text><text transform="translate(1096.86 872.00) scale(0.9306 1)">N</text><text transform="translate(1112.89 872.00) scale(0.9640 1)">T</text><text transform="translate(1127.95 872.00) scale(0.8697 1)">R</text><text transform="translate(1142.65 872.00) scale(1.0266 1)">A</text><text transform="translate(1160.99 872.00) scale(0.8391 1)">L</text></g>
<circle cx="1016" cy="863.5" r="17"/>
<circle cx="1044.5" cy="863.5" r="16.8"/>
<g fill="#000">
<circle cx="1015.65" cy="863.4" r="7.75"/>
<circle cx="1044.35" cy="863.4" r="7.75"/>
<circle cx="1030.1" cy="863.4" r="8.2"/>
</g>
<circle cx="1030.1" cy="863.4" r="8.15" fill="none" stroke="#03606f" stroke-width="2.1"/>
</g>
</svg>
</body>
</html>
